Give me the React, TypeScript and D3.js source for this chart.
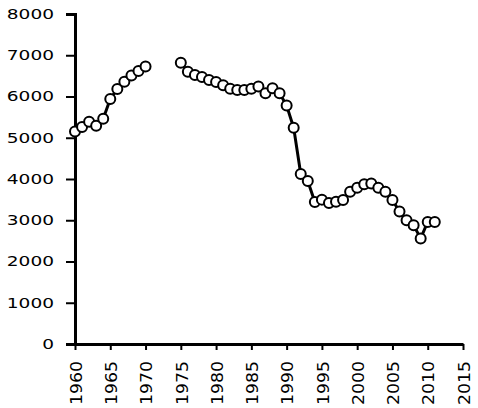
import React, { useEffect, useRef } from 'react';
import * as d3 from 'd3';

// years and values (gap between 1970 and 1975)
const years1 = [1960, 1961, 1962, 1963, 1964, 1965, 1966, 1967, 1968, 1969, 1970];
const values1 = [5150, 5260, 5390, 5290, 5460, 5940, 6180, 6360, 6510, 6620, 6730];
const years2 = [1975, 1976, 1977, 1978, 1979, 1980, 1981, 1982, 1983, 1984, 1985, 1986, 1987, 1988, 1989,
  1990, 1991, 1992, 1993, 1994, 1995, 1996, 1997, 1998, 1999, 2000, 2001, 2002, 2003, 2004, 2005,
  2006, 2007, 2008, 2009, 2010, 2011];
const values2 = [6820, 6600, 6520, 6470, 6400, 6350, 6270, 6190, 6160, 6160, 6190, 6240, 6080, 6200, 6080,
  5780, 5240, 4120, 3950, 3440, 3500, 3420, 3450, 3490, 3690, 3790, 3870, 3890, 3790, 3690, 3490,
  3210, 3000, 2880, 2560, 2960, 2960];
const xTicks = [1960, 1965, 1970, 1975, 1980, 1985, 1990, 1995, 2000, 2005, 2010, 2015];
const yTicks = [0, 1000, 2000, 3000, 4000, 5000, 6000, 7000, 8000];

const App = () => {
  const ref = useRef<SVGSVGElement>(null);

  useEffect(() => {
    const svg = d3.select(ref.current);
    svg.selectAll('*').remove();

    const x = d3.scaleLinear().domain([1960, 2015]).range([75, 463]);
    const y = d3.scaleLinear().domain([0, 8000]).range([344, 14]);
    const font = '"DejaVu Sans", Verdana, sans-serif';

    // Y axis
    const gy = svg.append('g').attr('transform', 'translate(75,0)')
      .call(d3.axisLeft(y).tickValues(yTicks).tickSize(9).tickPadding(12).tickFormat(d3.format('d')));
    gy.select('.domain').attr('stroke', '#000').attr('stroke-width', 3);
    gy.selectAll('.tick line').attr('stroke', '#000').attr('stroke-width', 2);
    gy.selectAll<SVGTextElement, number>('.tick text')
      .attr('font-family', font).attr('font-size', 14).attr('fill', '#000')
      .attr('textLength', d => String(d).length * 11.8)
      .attr('lengthAdjust', 'spacingAndGlyphs');

    // X axis
    const gx = svg.append('g').attr('transform', 'translate(0,344)')
      .call(d3.axisBottom(x).tickValues(xTicks).tickSize(6).tickSizeOuter(0).tickFormat(d3.format('d')));
    gx.select('.domain').attr('stroke', '#000').attr('stroke-width', 3);
    gx.selectAll('.tick line').attr('stroke', '#000').attr('stroke-width', 2);
    gx.selectAll('.tick text')
      .attr('font-family', font).attr('font-size', 15).attr('fill', '#000')
      .attr('transform', 'rotate(-90)')
      .attr('text-anchor', 'end')
      .attr('x', -17).attr('y', 1).attr('dy', '0.35em')
      .attr('textLength', 44)
      .attr('lengthAdjust', 'spacingAndGlyphs');

    const line = d3.line<[number, number]>().x(d => x(d[0])).y(d => y(d[1]));
    const segs = [
      years1.map((yr, i) => [yr, values1[i]] as [number, number]),
      years2.map((yr, i) => [yr, values2[i]] as [number, number]),
    ];

    segs.forEach(seg => {
      svg.append('path').datum(seg)
        .attr('d', line).attr('fill', 'none').attr('stroke', '#000').attr('stroke-width', 3);
    });
    segs.forEach(seg => {
      svg.append('g').selectAll('circle').data(seg).enter().append('circle')
        .attr('cx', d => x(d[0])).attr('cy', d => y(d[1])).attr('r', 5)
        .attr('fill', '#fff').attr('stroke', '#000').attr('stroke-width', 2);
    });
  }, []);

  return (
    <svg ref={ref} width={478} height={408}
      style={{ position: 'absolute', left: 0, top: 0, background: '#fff' }} />
  );
};

export default App;
